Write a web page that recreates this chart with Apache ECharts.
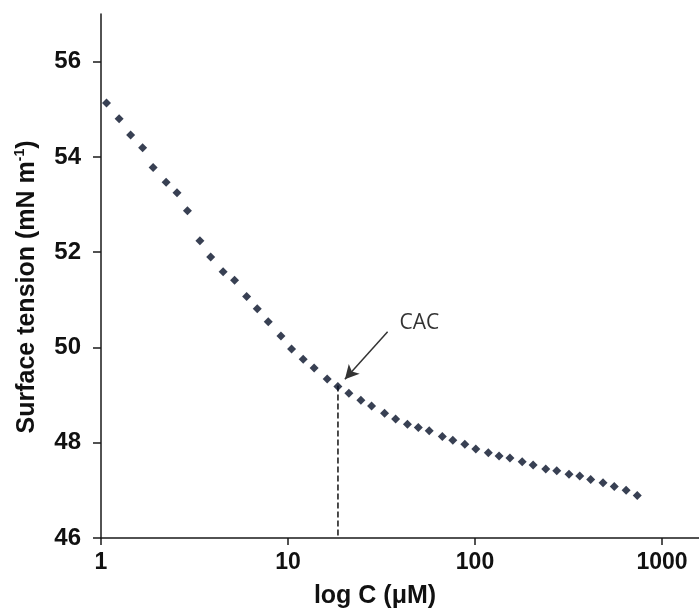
<!DOCTYPE html>
<html>
<head>
<meta charset="utf-8">
<script src="https://cdn.jsdelivr.net/npm/echarts@6/dist/echarts.min.js"></script>
<style>
  html, body { margin: 0; padding: 0; background: #fff; }
  #chart { width: 699px; height: 612px; }
</style>
</head>
<body>
<div id="chart"></div>
<script>
// concentration (uM) and surface tension (mN/m)
var concentration = [1.07, 1.25, 1.44, 1.67, 1.90, 2.23, 2.55, 2.90, 3.38, 3.86,
  4.50, 5.18, 6.01, 6.85, 7.84, 9.17, 10.45, 12.06, 13.79, 16.20,
  18.48, 21.16, 24.53, 27.99, 32.84, 37.64, 43.52, 49.77, 56.91, 66.88,
  76.08, 88.22, 101.0, 117.8, 134.5, 153.8, 178.8, 204.5, 238.9, 273.6,
  318.1, 363.2, 415.7, 483.8, 555.3, 642.8, 737.3];
var tension = [55.13, 54.80, 54.46, 54.19, 53.78, 53.47, 53.25, 52.87, 52.24, 51.90,
  51.59, 51.41, 51.07, 50.81, 50.54, 50.24, 49.97, 49.75, 49.57, 49.34,
  49.18, 49.04, 48.89, 48.77, 48.62, 48.50, 48.39, 48.32, 48.25, 48.13,
  48.05, 47.97, 47.87, 47.79, 47.72, 47.68, 47.60, 47.53, 47.45, 47.41,
  47.34, 47.30, 47.23, 47.16, 47.08, 47.00, 46.89];
var yTicks = [46, 48, 50, 52, 54, 56];

// CAC marker
var cacX = 18.5;
var cacTop = 49.2;
var arrowFrom = [34.1, 50.33];
var arrowTo = [20.15, 49.33];
var cacLabelAt = [50.4, 50.52];

var chart = echarts.init(document.getElementById('chart'));

var points = [];
for (var i = 0; i < concentration.length; i++) {
	points.push([concentration[i], tension[i]]);
}

var axisColor = '#1a1a1a';

var option = {
	animation: false,
	grid: {
		left: 101,
		top: 14,
		bottom: 74,
		right: -150,   // the 10000 end runs off the page, like the original
		outerBoundsMode: 'none'
	},
	xAxis: {
		type: 'log',
		logBase: 10,
		min: 1,
		max: 10000,
		axisLine: { lineStyle: { color: axisColor, width: 1.5 } },
		axisTick: { length: 7, lineStyle: { color: axisColor, width: 1.5 } },
		minorTick: { show: false },
		splitLine: { show: false },
		axisLabel: {
			margin: 13,
			color: '#111',
			fontSize: 23,
			fontWeight: 'bold',
			fontFamily: 'Liberation Sans, Arial, sans-serif',
			formatter: function (v) { return String(v); }
		}
	},
	yAxis: {
		type: 'value',
		min: 46,
		max: 57,
		interval: 2,
		axisLine: { show: true, lineStyle: { color: axisColor, width: 1.5 } },
		axisTick: { show: true, length: 8, customValues: yTicks, lineStyle: { color: axisColor, width: 1.5 } },
		splitLine: { show: false },
		axisLabel: {
			margin: 20,
			customValues: yTicks,
			color: '#111',
			fontSize: 24,
			fontWeight: 'bold',
			fontFamily: 'Liberation Sans, Arial, sans-serif'
		}
	},
	graphic: [
		{
			type: 'text',
			x: 375,
			y: 596,
			style: {
				text: 'log C (\u03bcM)',
				align: 'center',
				verticalAlign: 'middle',
				fill: '#111',
				font: 'bold 25px "Liberation Sans", Arial, sans-serif'
			}
		},
		{
			type: 'text',
			x: 27,
			y: 287,
			rotation: Math.PI / 2,
			style: {
				text: '{a|Surface tension (mN m}{s|-1}{a|)}',
				align: 'center',
				verticalAlign: 'middle',
				rich: {
					a: { fontSize: 25, fontWeight: 'bold', fontFamily: 'Liberation Sans, Arial, sans-serif', fill: '#111', color: '#111', lineHeight: 28 },
					s: { fontSize: 14, fontWeight: 'bold', fontFamily: 'Liberation Sans, Arial, sans-serif', fill: '#111', color: '#111', verticalAlign: 'top', lineHeight: 28, padding: [0, 0, 8, 0] }
				}
			}
		}
	],
	series: [
		{
			name: 'CAC line',
			type: 'line',
			data: [[cacX, cacTop], [cacX, 46]],
			symbol: 'none',
			silent: true,
			lineStyle: { color: '#111', width: 1.5, type: [6, 3] },
			z: 1
		},
		{
			name: 'Surface tension',
			type: 'scatter',
			data: points,
			symbol: 'diamond',
			symbolSize: 9,
			itemStyle: { color: '#061028' },
			z: 3,
			markLine: {
				silent: true,
				symbol: ['none', 'arrow'],
				symbolSize: [11, 14],
				lineStyle: { color: '#333', width: 1.5, type: 'solid' },
				label: { show: false },
				data: [[{ coord: arrowFrom }, { coord: arrowTo }]]
			},
			markPoint: {
				silent: true,
				symbol: 'circle',
				symbolSize: 0,
				label: {
					show: true,
					position: 'inside',
					formatter: 'CAC',
					color: '#333',
					fontSize: 21,
					fontFamily: 'Open Sans, sans-serif'
				},
				data: [{ coord: cacLabelAt }]
			}
		}
	]
};

chart.setOption(option);
</script>
</body>
</html>
